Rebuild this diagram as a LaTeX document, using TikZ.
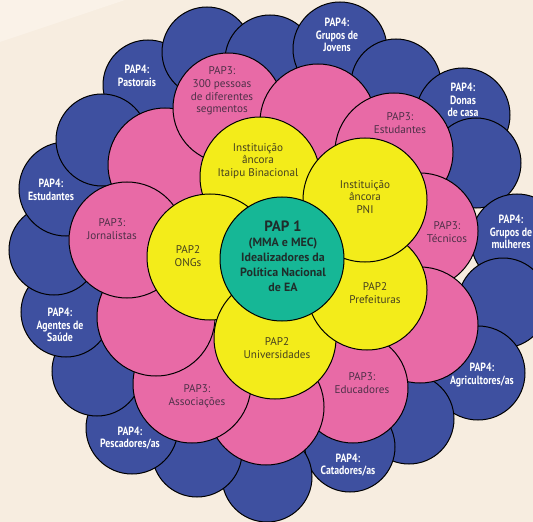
\documentclass[tikz,border=0pt]{standalone}
\usepackage{fontspec}
\setmainfont{PT Sans}
\newfontfamily\narrowfont[FakeStretch=0.82]{PT Sans}

\definecolor{cream}{HTML}{F7EDE0}
\definecolor{creamlight}{HTML}{FAF2E8}
\definecolor{pblue}{HTML}{3E50A0}
\definecolor{ppink}{HTML}{E86AA6}
\definecolor{pyellow}{HTML}{F3EC1A}
\definecolor{pteal}{HTML}{16B796}
\definecolor{pinktext}{HTML}{4E3048}
\definecolor{yellowtext}{HTML}{45401F}
\definecolor{tealtext}{HTML}{1F2E2B}

\tikzset{
  disc/.style={circle, draw=black, line width=1bp, inner sep=0pt, outer sep=0pt, minimum size=#1},
  blue disc/.style={disc=#1, fill=pblue},
  pink disc/.style={disc=#1, fill=ppink},
  yellow disc/.style={disc=#1, fill=pyellow},
  teal disc/.style={disc=#1, fill=pteal},
  outer label/.style={text=white, align=center, inner sep=0pt,
    font=\narrowfont\bfseries\fontsize{12}{12.8}\selectfont},
  pink label/.style={text=pinktext, align=center, inner sep=0pt,
    font=\fontsize{11.2}{12.8}\selectfont},
  yellow label/.style={text=yellowtext, align=center, inner sep=0pt,
    font=\fontsize{11.2}{12.8}\selectfont},
  core label/.style={text=tealtext, align=center, inner sep=0pt,
    font=\bfseries\fontsize{12}{14.8}\selectfont},
}

\begin{document}
\begin{tikzpicture}[x=1bp, y=-1bp]
\useasboundingbox (0,0) rectangle (533,522);
\clip (0,0) rectangle (533,522);

% paper
\fill[cream] (0,0) rectangle (533,522);
\fill[creamlight] (0,0) -- (125,0) -- (0,42) -- cycle;

% outer ring (PAP4), stacked clockwise
\node[blue disc=90bp]  (b01) at (148,85)  {};
\node[blue disc=90bp]  (b02) at (207,52)  {};
\node[blue disc=90bp]  (b03) at (270,60)  {};
\node[blue disc=94bp]  (b04) at (340,49)  {};
\node[blue disc=90bp]  (b05) at (396,84)  {};
\node[blue disc=94bp]  (b06) at (463,115) {};
\node[blue disc=90bp]  (b07) at (476,163) {};
\node[blue disc=92bp]  (b08) at (517,240) {};
\node[blue disc=90bp]  (b09) at (503,303) {};
\node[blue disc=94bp]  (b10) at (478,373) {};
\node[blue disc=90bp]  (b11) at (409,419) {};
\node[blue disc=90bp]  (b12) at (350,447) {};
\node[blue disc=90bp]  (b13) at (267,477) {};
\node[blue disc=90bp]  (b14) at (197,452) {};
\node[blue disc=92bp]  (b15) at (132,428) {};
\node[blue disc=90bp]  (b16) at (97,371)  {};
\node[blue disc=90bp]  (b17) at (66,312)  {};
\node[blue disc=90bp]  (b18) at (54,250)  {};
\node[blue disc=94bp]  (b19) at (66,189)  {};
\node[blue disc=92bp]  (b20) at (102,140) {};

% middle ring (PAP3)
\node[pink disc=114bp] (p11) at (165,165) {};
\node[pink disc=110bp] (p01) at (228,108) {};
\node[pink disc=116bp] (p02) at (318,122) {};
\node[pink disc=118bp] (p03) at (394,152) {};
\node[pink disc=116bp] (p04) at (420,231) {};
\node[pink disc=116bp] (p05) at (420,325) {};
\node[pink disc=110bp] (p06) at (353,388) {};
\node[pink disc=116bp] (p07) at (266,407) {};
\node[pink disc=118bp] (p08) at (192,384) {};
\node[pink disc=118bp] (p09) at (156,317) {};
\node[pink disc=116bp] (p10) at (127,240) {};

% inner ring (PAP2 and anchor institutions)
\node[yellow disc=120bp] (y1) at (260,177) {};
\node[yellow disc=126bp] (y5) at (210,257) {};
\node[yellow disc=122bp] (y4) at (275,338) {};
\node[yellow disc=120bp] (y3) at (367,290) {};
\node[yellow disc=124bp] (y2) at (365,200) {};

% core (PAP1)
\node[teal disc=124bp] (core) at (282,259) {};

% PAP4 labels
\node[outer label] (t-pastorais)  at (137,76)  {PAP4:\\Pastorais};
\node[outer label] (t-jovens)     at (337,35)  {PAP4:\\Grupos de\\Jovens};
\node[outer label] (t-donas)      at (463,100) {PAP4:\\Donas\\de casa};
\node[outer label] (t-mulheres)   at (511,232) {PAP4:\\Grupos de\\mulheres};
\node[outer label] (t-agricult)   at (482,375) {PAP4:\\Agricultores/as};
\node[outer label] (t-catadores)  at (348,465) {PAP4:\\Catadores/as};
\node[outer label] (t-pescadores) at (130,438) {PAP4:\\Pescadores/as};
\node[outer label] (t-agentes)    at (60,325)  {PAP4:\\Agentes de\\Saúde};
\node[outer label] (t-estud4)     at (51,190)  {PAP4:\\Estudantes};

% PAP3 labels
\node[pink label] (t-pessoas)     at (222,91)  {PAP3:\\300 pessoas\\de diferentes\\segmentos};
\node[pink label] (t-estud3)      at (400,123) {PAP3:\\Estudantes};
\node[pink label] (t-tecnicos)    at (447,232) {PAP3:\\Técnicos};
\node[pink label] (t-educadores)  at (362,383) {PAP3:\\Educadores};
\node[pink label] (t-associacoes) at (197,396) {PAP3:\\Associações};
\node[pink label] (t-jornalistas) at (112,229) {PAP3:\\Jornalistas};

% PAP2 and anchor labels
\node[yellow label] (t-itaipu)   at (258,161) {Instituição\\âncora\\Itaipu Binacional};
\node[yellow label] (t-pni)      at (365,197) {Instituição\\âncora\\PNI};
\node[yellow label] (t-prefeit)  at (375,293) {PAP2\\Prefeituras};
\node[yellow label] (t-univ)     at (277,348) {PAP2\\Universidades};
\node[yellow label] (t-ongs)     at (188,256) {PAP2\\ONGs};

% PAP1 label
\node[core label] (t-core) at (283,256)
  {{\fontsize{15}{15}\selectfont PAP 1}\\[1pt]
   (MMA e MEC)\\Idealizadores da\\Política Nacional\\de EA};
\end{tikzpicture}
\end{document}
